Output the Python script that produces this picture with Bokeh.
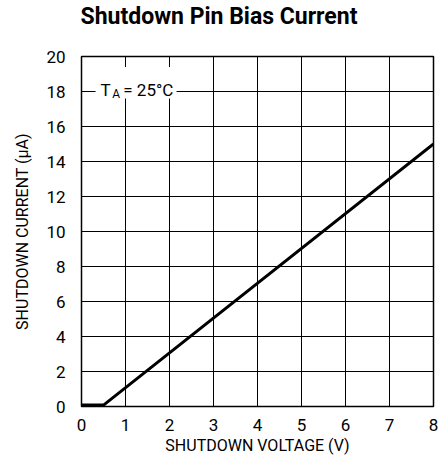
from bokeh.plotting import figure
from bokeh.models import Range1d, FixedTicker, Label
from bokeh.embed import file_html
from bokeh.resources import INLINE

voltage = [0.0, 0.5, 8.0]
current = [0.08, 0.08, 15.0]
x_ticks = [0, 1, 2, 3, 4, 5, 6, 7, 8]
y_ticks = [0, 2, 4, 6, 8, 10, 12, 14, 16, 18, 20]
title_text = "Shutdown Pin Bias Current"

FONT = "Roboto"

p = figure(width=438, height=457, output_backend="svg", toolbar_location=None,
           x_range=Range1d(0, 8), y_range=Range1d(0, 20),
           min_border_left=81, min_border_right=5, min_border_top=55, min_border_bottom=50)

p.title.text = title_text + "\n "
p.title.text_font = FONT
p.title.text_font_style = "bold"
p.title.text_font_size = "23px"
p.title.text_color = "black"
p.title.text_line_height = 0.83
p.title.align = "left"
p.title.vertical_align = "top"
p.title.offset = -1
p.title.standoff = 5

p.outline_line_color = "black"
p.outline_line_width = 1.5
p.outline_line_alpha = 1

for ax in (p.xaxis[0], p.yaxis[0]):
    ax.axis_line_color = None
    ax.major_tick_line_color = None
    ax.minor_tick_line_color = None
    ax.major_label_text_font = FONT
    ax.major_label_text_font_size = "17px"
    ax.major_label_text_color = "black"
    ax.axis_label_text_font = FONT
    ax.axis_label_text_font_size = "16px"
    ax.axis_label_text_font_style = "normal"
    ax.axis_label_text_color = "black"

p.xaxis.ticker = FixedTicker(ticks=x_ticks)
p.yaxis.ticker = FixedTicker(ticks=y_ticks)
p.xaxis.axis_label = "SHUTDOWN VOLTAGE (V)"
p.yaxis.axis_label = "SHUTDOWN CURRENT (µA)"
p.xaxis.major_label_standoff = 6
p.yaxis.major_label_standoff = 10
p.xaxis.axis_label_standoff = 2
p.yaxis.axis_label_standoff = 11

p.xgrid.grid_line_color = "black"
p.ygrid.grid_line_color = "black"
p.xgrid.grid_line_alpha = 1
p.ygrid.grid_line_alpha = 1
p.xgrid.grid_line_width = 1
p.ygrid.grid_line_width = 1

p.line(voltage, current, line_color="black", line_width=3)

# white box behind annotation
p.quad(left=[0.32], right=[2.16], bottom=[17.6], top=[19.4], fill_color="white", line_color=None)
p.add_layout(Label(x=0.43, y=18.07, text="T", text_font=FONT, text_font_size="17px",
                   text_baseline="alphabetic", text_color="black"))
p.add_layout(Label(x=0.70, y=17.84, text="A", text_font=FONT, text_font_size="12px",
                   text_baseline="alphabetic", text_color="black"))
p.add_layout(Label(x=0.95, y=18.07, text="= 25°C", text_font=FONT, text_font_size="17px",
                   text_baseline="alphabetic", text_color="black"))

open("out.html", "w").write(file_html(p, INLINE))
